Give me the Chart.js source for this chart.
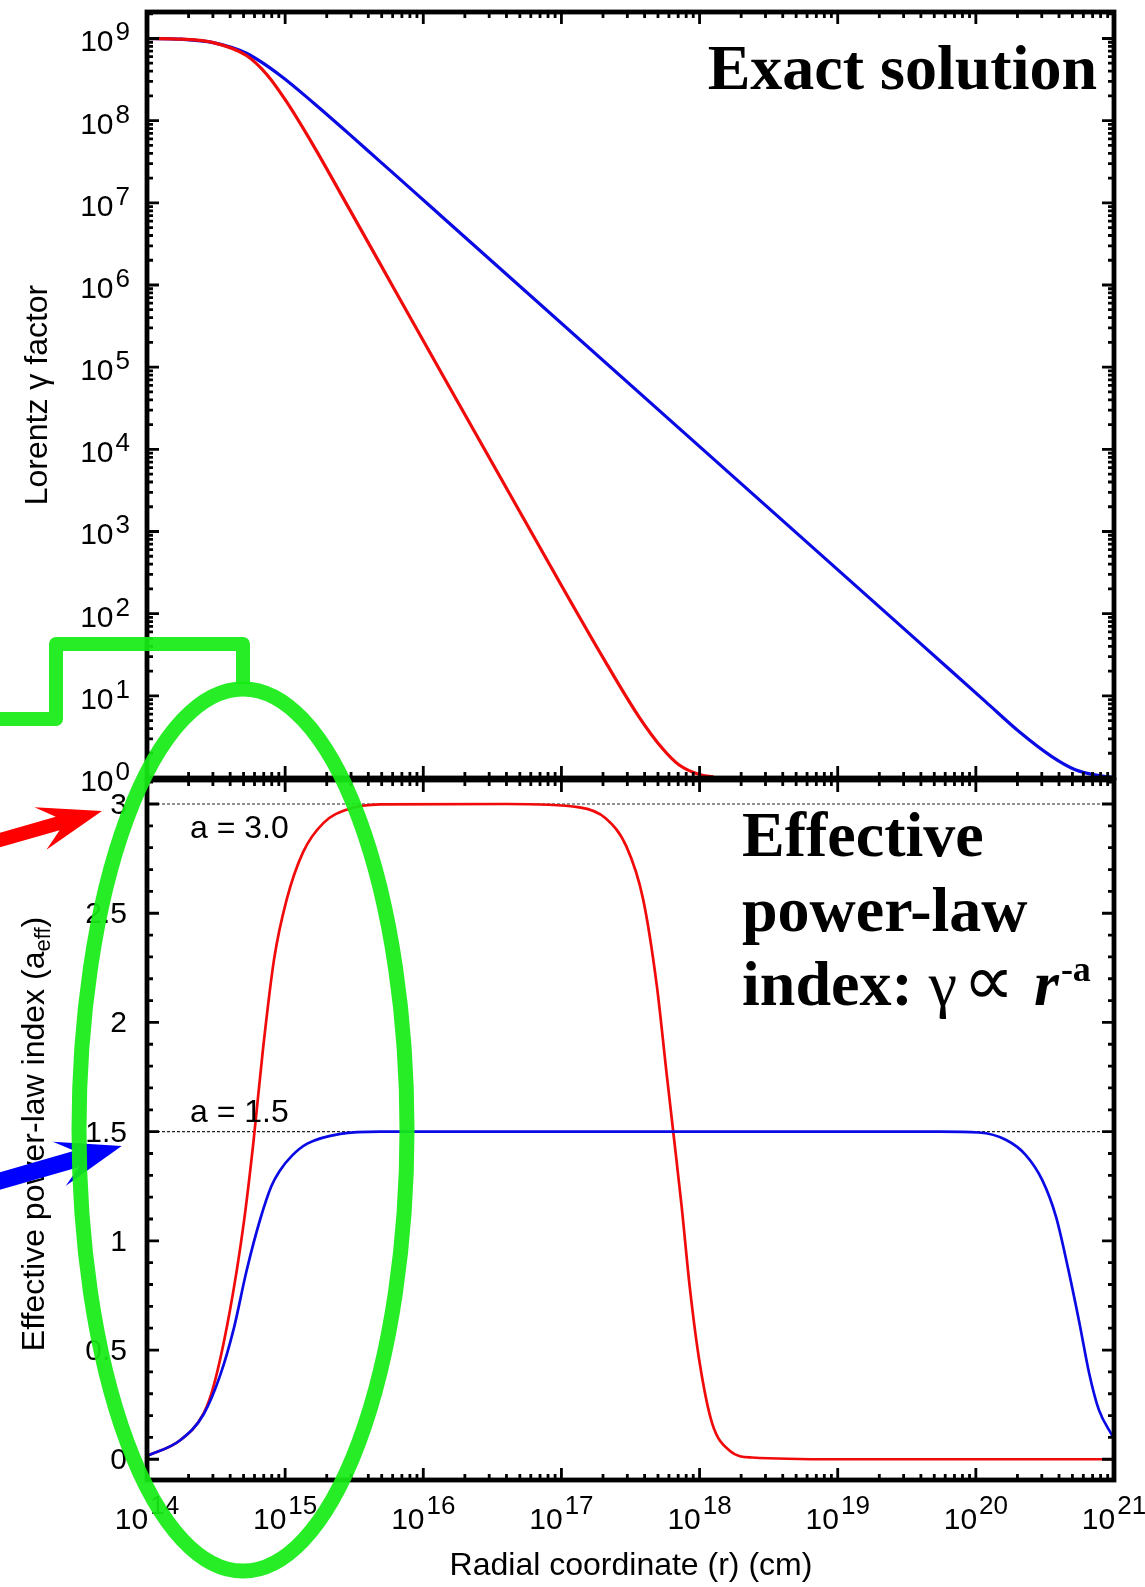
<!DOCTYPE html>
<html lang="en">
<head>
  <meta charset="UTF-8" />
  <title>Lorentz factor and effective power-law index</title>
  <script src="https://cdn.jsdelivr.net/npm/chart.js"></script>
  <style>
    body { margin: 0; background: #fff; }
    #wrap { position: relative; width: 1145px; height: 1587px; }
    #wrap canvas { position: absolute; left: 0; top: 0; }
  </style>
</head>
<body>
  <div id="wrap">
    <canvas id="gammaChart" width="1145" height="1587"></canvas>
    <canvas id="indexChart" width="1145" height="1587"></canvas>
  </div>

  <script>
    // ---- data: log10(r / cm) for each sample, and the value there ----
    const gammaRedLogR  = [14.0, 14.25, 14.48, 14.72, 14.87, 15.01, 15.21, 15.45, 15.69, 15.93, 16.91, 17.32, 17.56, 17.73, 17.85, 18.0, 18.1];
    const gammaRed      = [1.0e9, 9.8e8, 8.9e8, 6.2e8, 3.6e8, 1.7e8, 4.8e7, 9.3e6, 1.78e6, 3.4e5, 407, 25.7, 5.6, 2.3, 1.45, 1.1, 1.03];

    const gammaBlueLogR = [14.0, 14.25, 14.48, 14.72, 14.96, 15.21, 15.45, 15.69, 15.93, 16.17, 19.59, 19.83, 20.07, 20.31, 20.55, 20.72, 20.89, 20.99];
    const gammaBlue     = [1.0e9, 9.8e8, 8.9e8, 6.6e8, 3.6e8, 1.62e8, 7.2e7, 3.15e7, 1.38e7, 6.0e6, 44.7, 19.5, 8.5, 3.7, 1.82, 1.26, 1.07, 1.02];

    const indexRedLogR  = [14.0, 14.24, 14.41, 14.48, 14.6, 14.7, 14.77, 14.84, 14.92, 15.01, 15.13, 15.28, 15.45, 15.69, 16.6, 17.13, 17.32, 17.47, 17.59, 17.69, 17.76, 17.81, 17.87, 17.93, 18.0, 18.09, 18.22, 18.38, 19.0, 21.0];
    const indexRed      = [0.015, 0.087, 0.21, 0.33, 0.68, 1.08, 1.45, 1.88, 2.29, 2.56, 2.78, 2.915, 2.975, 2.998, 3.0, 2.985, 2.935, 2.806, 2.568, 2.171, 1.774, 1.496, 1.159, 0.782, 0.444, 0.167, 0.038, 0.008, 0.0, 0.0];

    const indexBlueLogR = [14.0, 14.24, 14.41, 14.53, 14.63, 14.72, 14.82, 14.9, 14.96, 15.05, 15.16, 15.4, 15.69, 19.73, 20.02, 20.22, 20.36, 20.48, 20.58, 20.67, 20.75, 20.82, 20.89, 20.99];
    const indexBlue     = [0.015, 0.087, 0.206, 0.385, 0.603, 0.861, 1.1, 1.25, 1.32, 1.39, 1.445, 1.49, 1.5, 1.5, 1.496, 1.462, 1.394, 1.279, 1.111, 0.867, 0.623, 0.394, 0.227, 0.105];

    const refLevels = [3.0, 1.5];
    const refLabels = ['a = 3.0', 'a = 1.5'];

    // ---- ticks ----
    const xTickExp = [14, 15, 16, 17, 18, 19, 20, 21];
    const gammaTickExp = [0, 1, 2, 3, 4, 5, 6, 7, 8, 9];
    const indexTicks = [0, 0.5, 1, 1.5, 2, 2.5, 3];
    const indexTickLabels = ['0', '0.5', '1', '1.5', '2', '2.5', '3'];

    const SANS = '"Liberation Sans", Arial, Helvetica, sans-serif';
    const SERIF = '"Liberation Serif", "Times New Roman", serif';
    const RED = 'rgb(240,10,10)';
    const BLUE = 'rgb(10,10,228)';
    const GREEN = 'rgba(22,236,22,0.93)';

    const toPoints = (logR, vals) => logR.map((e, i) => ({ x: Math.pow(10, e), y: vals[i] }));

    const xMajor = xTickExp.map(e => Math.pow(10, e));
    const xMinor = [];
    xTickExp.slice(0, -1).forEach(e => { for (let k = 2; k <= 9; k++) xMinor.push(k * Math.pow(10, e)); });

    const gammaMajor = gammaTickExp.map(e => Math.pow(10, e));
    const gammaMinor = [];
    gammaTickExp.forEach(e => { for (let k = 2; k <= 9; k++) gammaMinor.push(k * Math.pow(10, e)); });

    const indexMinor = [];
    for (let i = 0; i <= 31; i++) if (i % 5 !== 0) indexMinor.push(i / 10);

    // inward gnuplot-style ticks on all four sides, then the box
    function drawFrame(chart, yMajor, yMinor) {
      const { ctx, chartArea: ca, scales } = chart;
      const sx = scales.x, sy = scales.y;
      ctx.save();
      ctx.strokeStyle = '#000';
      ctx.lineWidth = 2.8;
      ctx.beginPath();
      const seg = (x1, y1, x2, y2) => { ctx.moveTo(x1, y1); ctx.lineTo(x2, y2); };
      [[xMajor, 12], [xMinor, 6]].forEach(([vals, len]) => vals.forEach(v => {
        const x = sx.getPixelForValue(v);
        seg(x, ca.bottom, x, ca.bottom - len);
        seg(x, ca.top, x, ca.top + len);
      }));
      [[yMajor, 12], [yMinor, 6]].forEach(([vals, len]) => vals.forEach(v => {
        const y = sy.getPixelForValue(v);
        if (y < ca.top || y > ca.bottom) return;
        seg(ca.left, y, ca.left + len, y);
        seg(ca.right, y, ca.right - len, y);
      }));
      ctx.stroke();
      ctx.lineWidth = 4.8;
      ctx.strokeRect(ca.left, ca.top, ca.right - ca.left, ca.bottom - ca.top);
      ctx.restore();
    }

    // "10" with a raised exponent
    function powLabel(ctx, exp, x, y, align, raise) {
      ctx.font = `30px ${SANS}`;
      const wb = ctx.measureText('10').width;
      ctx.font = `26px ${SANS}`;
      const we = ctx.measureText(String(exp)).width;
      const total = wb + 2 + we;
      const x0 = align === 'right' ? x - total : x - total / 2;
      ctx.textAlign = 'left';
      ctx.textBaseline = 'alphabetic';
      ctx.font = `30px ${SANS}`;
      ctx.fillText('10', x0, y);
      ctx.font = `26px ${SANS}`;
      ctx.fillText(String(exp), x0 + wb + 2, y - raise);
    }

    // rotated axis title built from pieces (for subscripts)
    function verticalTitle(ctx, cx, cy, parts) {
      ctx.save();
      ctx.translate(cx, cy);
      ctx.rotate(-Math.PI / 2);
      ctx.textAlign = 'left';
      ctx.textBaseline = 'alphabetic';
      let total = 0;
      parts.forEach(p => { ctx.font = p.font; p.w = ctx.measureText(p.t).width; total += p.w; });
      let x = -total / 2;
      parts.forEach(p => { ctx.font = p.font; ctx.fillText(p.t, x, p.dy || 0); x += p.w; });
      ctx.restore();
    }

    function arrow(ctx, tail, tip, shaftW, headLen, headHalf, color) {
      const dx = tip[0] - tail[0], dy = tip[1] - tail[1];
      const len = Math.hypot(dx, dy);
      const u = [dx / len, dy / len], n = [-u[1], u[0]];
      const at = (d, o) => [tip[0] - u[0] * d + n[0] * o, tip[1] - u[1] * d + n[1] * o];
      const neck = headLen * 0.72;
      const pts = [
        [tail[0] + n[0] * shaftW / 2, tail[1] + n[1] * shaftW / 2],
        at(neck, shaftW / 2), at(headLen, headHalf), tip,
        at(headLen, -headHalf), at(neck, -shaftW / 2),
        [tail[0] - n[0] * shaftW / 2, tail[1] - n[1] * shaftW / 2]
      ];
      ctx.fillStyle = color;
      ctx.beginPath();
      pts.forEach((p, i) => i ? ctx.lineTo(p[0], p[1]) : ctx.moveTo(p[0], p[1]));
      ctx.closePath();
      ctx.fill();
    }

    const baseOptions = (padding, yScale) => ({
      responsive: false,
      animation: false,
      devicePixelRatio: 1,
      events: [],
      layout: { padding },
      plugins: { legend: { display: false }, tooltip: { enabled: false } },
      elements: { point: { radius: 0 }, line: { cubicInterpolationMode: 'monotone' } },
      scales: {
        x: { type: 'logarithmic', min: 1e14, max: 1e21, display: false },
        y: yScale
      }
    });

    // ---- upper panel: Lorentz factor ----
    new Chart(document.getElementById('gammaChart'), {
      type: 'line',
      data: {
        datasets: [
          { data: toPoints(gammaRedLogR, gammaRed), borderColor: RED, borderWidth: 3.2, order: 0 },
          { data: toPoints(gammaBlueLogR, gammaBlue), borderColor: BLUE, borderWidth: 3.2, order: 1 }
        ]
      },
      options: baseOptions({ left: 147, right: 31, top: 12, bottom: 1587 - 778 },
        { type: 'logarithmic', min: 1, max: 2.1e9, display: false }),
      plugins: [{
        id: 'gammaDecor',
        afterDraw(chart) {
          const { ctx, scales } = chart;
          drawFrame(chart, gammaMajor, gammaMinor);
          ctx.save();
          ctx.fillStyle = '#000';
          gammaTickExp.forEach(e => powLabel(ctx, e, 130, scales.y.getPixelForValue(Math.pow(10, e)) + 13, 'right', 11));
          verticalTitle(ctx, 47, 395, [{ t: 'Lorentz \u03b3 factor', font: `32px ${SANS}` }]);
          ctx.font = `bold 64px ${SERIF}`;
          ctx.textAlign = 'right';
          ctx.textBaseline = 'alphabetic';
          ctx.fillText('Exact solution', 1097, 89);
          ctx.restore();
        }
      }]
    });

    // ---- lower panel: effective power-law index ----
    new Chart(document.getElementById('indexChart'), {
      type: 'line',
      data: {
        datasets: [
          { data: toPoints(indexBlueLogR, indexBlue), borderColor: BLUE, borderWidth: 2.7, order: 0 },
          { data: toPoints(indexRedLogR, indexRed), borderColor: RED, borderWidth: 2.7, order: 1 },
          ...refLevels.map(v => ({
            data: [{ x: 1e14, y: v }, { x: 1e21, y: v }],
            borderColor: '#222', borderWidth: 1.2, borderDash: [3, 2], order: 5
          }))
        ]
      },
      options: baseOptions({ left: 147, right: 31, top: 780, bottom: 1587 - 1480 },
        { type: 'linear', min: -0.095, max: 3.11, display: false }),
      plugins: [{
        id: 'indexDecor',
        afterDraw(chart) {
          const { ctx, scales } = chart;
          drawFrame(chart, indexTicks, indexMinor);
          ctx.save();
          ctx.fillStyle = '#000';

          // tick labels
          ctx.font = `30px ${SANS}`;
          ctx.textAlign = 'right';
          ctx.textBaseline = 'alphabetic';
          indexTicks.forEach((v, i) => ctx.fillText(indexTickLabels[i], 127, scales.y.getPixelForValue(v) + 10));
          xTickExp.forEach(e => powLabel(ctx, e, scales.x.getPixelForValue(Math.pow(10, e)), 1529, 'center', 15));

          // reference level captions
          ctx.font = `32px ${SANS}`;
          ctx.textAlign = 'left';
          ctx.fillText(refLabels[0], 190, scales.y.getPixelForValue(refLevels[0]) + 34);
          ctx.fillText(refLabels[1], 190, scales.y.getPixelForValue(refLevels[1]) - 10);

          // axis titles
          ctx.font = `32px ${SANS}`;
          ctx.textAlign = 'center';
          ctx.fillText('Radial coordinate (r) (cm)', 631, 1575);
          verticalTitle(ctx, 44, 1134, [
            { t: 'Effective power-law index (a', font: `32px ${SANS}` },
            { t: 'eff', font: `22px ${SANS}`, dy: 6 },
            { t: ')', font: `32px ${SANS}` }
          ]);

          // panel caption
          ctx.textAlign = 'left';
          ctx.font = `bold 64px ${SERIF}`;
          ctx.fillText('Effective', 742, 856);
          ctx.fillText('power-law', 742, 931);
          let x = 742;
          const put = (t, font, dy, gap) => {
            ctx.font = font;
            ctx.fillText(t, x, 1005 + (dy || 0));
            x += ctx.measureText(t).width + (gap || 0);
          };
          put('index:', `bold 64px ${SERIF}`, 0, 16);
          put('\u03b3', `64px ${SERIF}`, 0, 6);
          put('\u221d', `72px ${SERIF}`, 0, 20);
          put('r', `italic bold 64px ${SERIF}`, 0, 2);
          put('-a', `bold 36px ${SERIF}`, -24);

          // highlight marks
          arrow(ctx, [-10, 842.8], [102, 811], 14, 64, 22, 'rgb(255,0,0)');
          arrow(ctx, [-10, 1183.9], [121.7, 1146], 17, 65, 23, 'rgb(0,0,255)');
          ctx.strokeStyle = GREEN;
          ctx.lineWidth = 14;
          ctx.lineJoin = 'round';
          ctx.beginPath();
          ctx.moveTo(-10, 719);
          ctx.lineTo(56, 719);
          ctx.lineTo(56, 644);
          ctx.lineTo(243, 644);
          ctx.lineTo(243, 684);
          ctx.stroke();
          ctx.lineWidth = 15;
          ctx.beginPath();
          ctx.ellipse(243, 1130, 164, 441, 0, 0, Math.PI * 2);
          ctx.stroke();
          ctx.restore();
        }
      }]
    });
  </script>
</body>
</html>
